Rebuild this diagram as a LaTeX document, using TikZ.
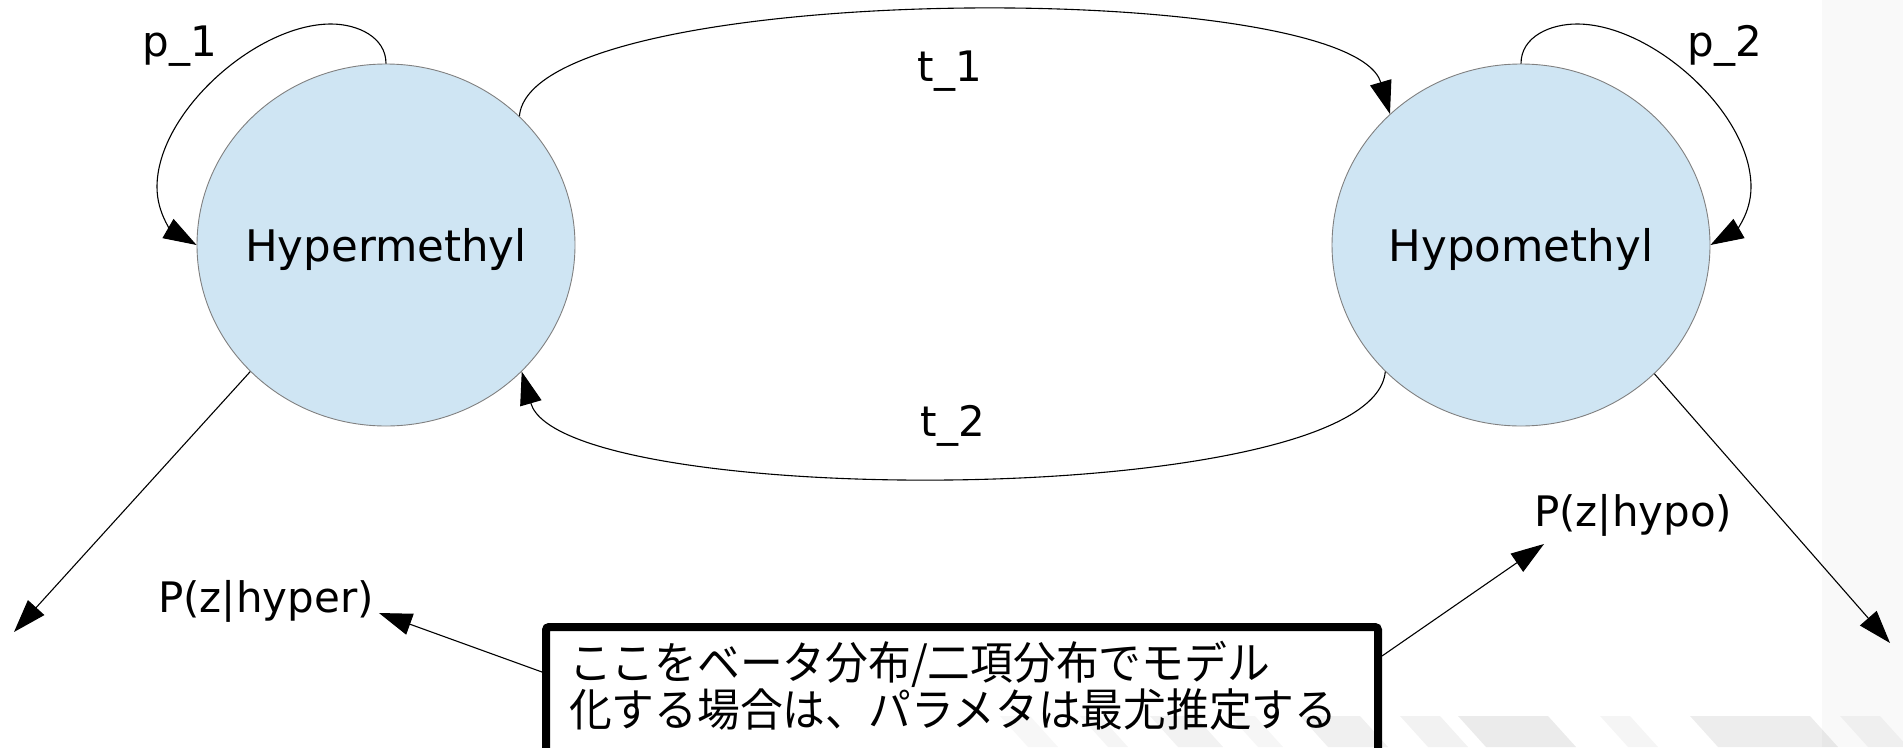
\documentclass[tikz,border=0pt]{standalone}
\usepackage{fontspec}
\setmainfont{DejaVu Sans}
\newfontfamily\jp{Noto Sans CJK JP}[FakeStretch=0.95]
\usetikzlibrary{arrows.meta,shapes.geometric,calc}
\definecolor{stateblue}{RGB}{207,229,243}
\definecolor{stateedge}{RGB}{128,128,128}
\tikzset{
  state/.style={ellipse, draw=stateedge, line width=0.9pt, fill=stateblue,
    minimum width=378pt, minimum height=362pt, inner xsep=-60pt, inner ysep=0pt,
    text depth=0pt, font=\fontsize{43.5}{46}\selectfont},
  conn/.style={draw=black, line width=1.1pt, -{Triangle[length=33pt,width=22pt]}},
  lbl/.style={inner sep=0pt, font=\fontsize{42}{44}\selectfont},
  notebox/.style={draw=black, line width=8pt, rounded corners=3pt,
    minimum width=832pt, minimum height=200pt, inner sep=0pt, anchor=north west},
  notetext/.style={inner sep=0pt, anchor=north west, align=left,
    font=\jp\fontsize{45}{41.5}\selectfont}
}
\begin{document}
\begin{tikzpicture}[x=1pt,y=1pt]
\useasboundingbox (0,0) rectangle (1903,-747);
\fill[white] (0,0) rectangle (1903,-747);
% faint background texture
\fill[black, opacity=0.025] (1822,0) rectangle (1903,-747);
\foreach \sx/\sw/\so in {1000/30/0.03,1080/20/0.04,1150/45/0.05,1230/25/0.035,1300/60/0.06,1400/40/0.05,1458/90/0.08,1600/30/0.04,1690/120/0.07,1840/40/0.04}{
  \fill[black, opacity=\so] (\sx,-716) -- (\sx+\sw,-716) -- (\sx+\sw+28,-747) -- (\sx+28,-747) -- cycle;
}

% states
\node[state] (hyper) at (386,-245) {Hypermethyl};
\node[state] (hypo) at (1521,-245) {Hypomethyl};

% labels
\node[lbl, anchor=base] (p1) at (180,-56) {p\_1};
\node[lbl, anchor=base] (p2) at (1725,-56) {p\_2};
\node[lbl, anchor=base] (t1) at (950,-81) {t\_1};
\node[lbl, anchor=base] (t2) at (953,-436) {t\_2};
\node[lbl, anchor=base west] (phyper) at (158,-612) {P(z|hyper)};
\node[lbl, anchor=base west] (phypo) at (1534,-526) {P(z|hypo)};

% note box
\node[notebox] (note) at (542,-623) {};
\node[notetext] (notetxt) at (569,-641) {\setlength{\lineskiplimit}{-50pt}ここをベータ分布/二項分布でモデル\\化する場合は、パラメタは最尤推定する};

% free ends
\coordinate (outL) at (14,-632);
\coordinate (outR) at (1890,-643);

% self loops
\draw[conn] (hyper.north) to[out=90,in=0] (331,-24)
  to[out=180,in=90,looseness=0.8] (157,-187)
  to[out=270,in=150] (hyper.west);
\draw[conn] (hypo.north) to[out=90,in=180] (1577,-24)
  to[out=0,in=90,looseness=0.8] (1751,-187)
  to[out=270,in=30] (hypo.east);

% transitions
\draw[conn] (hyper.44.6) .. controls +(12,137) and +(-40,137) .. (hypo.135.4);
\draw[conn] (hypo.223) .. controls +(-12,-139) and +(40,-139) .. (hyper.317);

% emissions
\draw[conn] (hyper.223.5) -- (outL);
\draw[conn] (hypo.316.7) -- (outR);

% note pointers
\draw[conn] ($(note.north west)+(0,-49)$) -- ($(phyper.base east)+(5,-1)$);
\draw[conn] ($(note.north east)+(0,-33)$) -- ($(phypo.base west)+(10,-18)$);
\end{tikzpicture}
\end{document}
